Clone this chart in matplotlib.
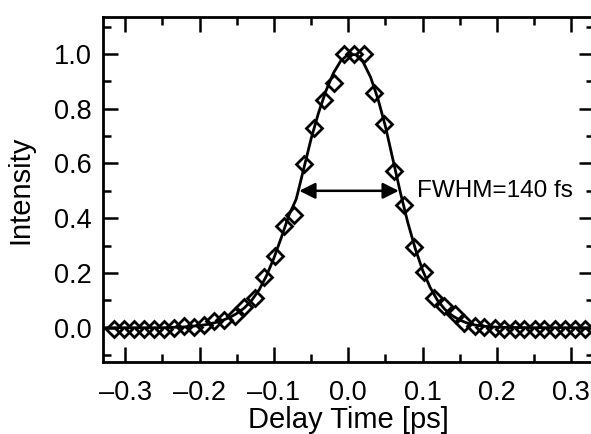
import matplotlib
matplotlib.use("Agg")
import matplotlib.pyplot as plt
from matplotlib.ticker import MultipleLocator, FuncFormatter

plt.rcParams['font.family'] = ['Liberation Sans', 'DejaVu Sans']

# measured points (diamonds)
delay = [-0.315, -0.302, -0.288, -0.275, -0.261, -0.248, -0.234, -0.221, -0.207, -0.194,
         -0.180, -0.167, -0.153, -0.140, -0.126, -0.113, -0.099, -0.086, -0.073, -0.059,
         -0.046, -0.032, -0.019, -0.006, 0.008, 0.021, 0.035, 0.048, 0.062, 0.075,
         0.089, 0.102, 0.116, 0.129, 0.143, 0.156, 0.170, 0.183, 0.197, 0.210,
         0.224, 0.237, 0.251, 0.264, 0.278, 0.291, 0.305, 0.318, 0.332]
intensity = [-0.004, -0.004, -0.004, -0.004, -0.003, -0.003, -0.002, 0.007, 0.001, 0.010,
             0.023, 0.029, 0.044, 0.077, 0.110, 0.186, 0.263, 0.372, 0.412, 0.597,
             0.731, 0.831, 0.895, 1.000, 1.000, 0.998, 0.857, 0.743, 0.573, 0.447,
             0.296, 0.202, 0.110, 0.080, 0.050, 0.019, 0.007, 0.001, -0.002, -0.003,
             -0.003, -0.004, -0.004, -0.004, -0.004, -0.004, -0.004, -0.004, -0.004]

# fitted curve
fit_t = [-0.33, -0.30, -0.25, -0.22, -0.20, -0.19, -0.18, -0.17, -0.16, -0.15, -0.14, -0.13,
         -0.12, -0.11, -0.10, -0.09, -0.08, -0.07, -0.06, -0.05, -0.04, -0.03, -0.02, -0.01,
         0.00, 0.01, 0.02, 0.03, 0.04, 0.05, 0.06, 0.07, 0.08, 0.09, 0.10, 0.11, 0.12,
         0.13, 0.14, 0.15, 0.16, 0.17, 0.18, 0.20, 0.22, 0.25, 0.30, 0.33]
fit_i = [0.0, 0.0, 0.0, 0.003, 0.008, 0.012, 0.018, 0.026, 0.037, 0.052, 0.072, 0.100,
         0.138, 0.190, 0.255, 0.330, 0.410, 0.470, 0.580, 0.690, 0.785, 0.865, 0.930, 0.975,
         0.998, 0.997, 0.970, 0.915, 0.835, 0.735, 0.615, 0.495, 0.385, 0.290, 0.210, 0.148,
         0.100, 0.067, 0.044, 0.028, 0.017, 0.010, 0.006, 0.002, 0.001, 0.0, 0.0, 0.0]

fwhm_left, fwhm_right, half = -0.066, 0.068, 0.5
fwhm_label = "FWHM=140 fs"

fig = plt.figure(figsize=(5.91, 4.34), dpi=100)
ax = fig.add_axes([0.1743, 0.166, 0.830, 0.795])

ax.plot(fit_t, fit_i, color='black', lw=2, zorder=2)
ax.plot(delay, intensity, linestyle='none', marker='D', ms=8.5, mfc='none',
        mec='black', mew=2, zorder=3)

ax.annotate('', xy=(fwhm_left, half), xytext=(fwhm_right, half),
            arrowprops=dict(arrowstyle='<|-|>', color='black', lw=1.8,
                            mutation_scale=24, shrinkA=0, shrinkB=0))
ax.text(0.092, half, fwhm_label, fontsize=17.5, va='center', ha='left')

fmt = FuncFormatter(lambda v, p: ('%.1f' % v).replace('-', '\u2013'))
ax.set_xlim(-0.33, 0.33)
ax.set_ylim(-0.125, 1.135)
ax.xaxis.set_major_locator(MultipleLocator(0.1))
ax.xaxis.set_minor_locator(MultipleLocator(0.05))
ax.yaxis.set_major_locator(MultipleLocator(0.2))
ax.yaxis.set_minor_locator(MultipleLocator(0.1))
ax.xaxis.set_major_formatter(fmt)
ax.yaxis.set_major_formatter(fmt)
ax.tick_params(which='both', direction='in', top=True, right=True, width=1.8,
               labelsize=19.5)
ax.tick_params(axis='x', which='both', pad=13)
ax.tick_params(axis='y', which='both', pad=8)
ax.tick_params(which='major', length=11)
ax.tick_params(which='minor', length=6)
for s in ax.spines.values():
    s.set_linewidth(2)

ax.set_xlabel('Delay Time [ps]', fontsize=21, labelpad=0)
ax.set_ylabel('Intensity', fontsize=21, labelpad=14)

fig.savefig('out.png', dpi=100)
